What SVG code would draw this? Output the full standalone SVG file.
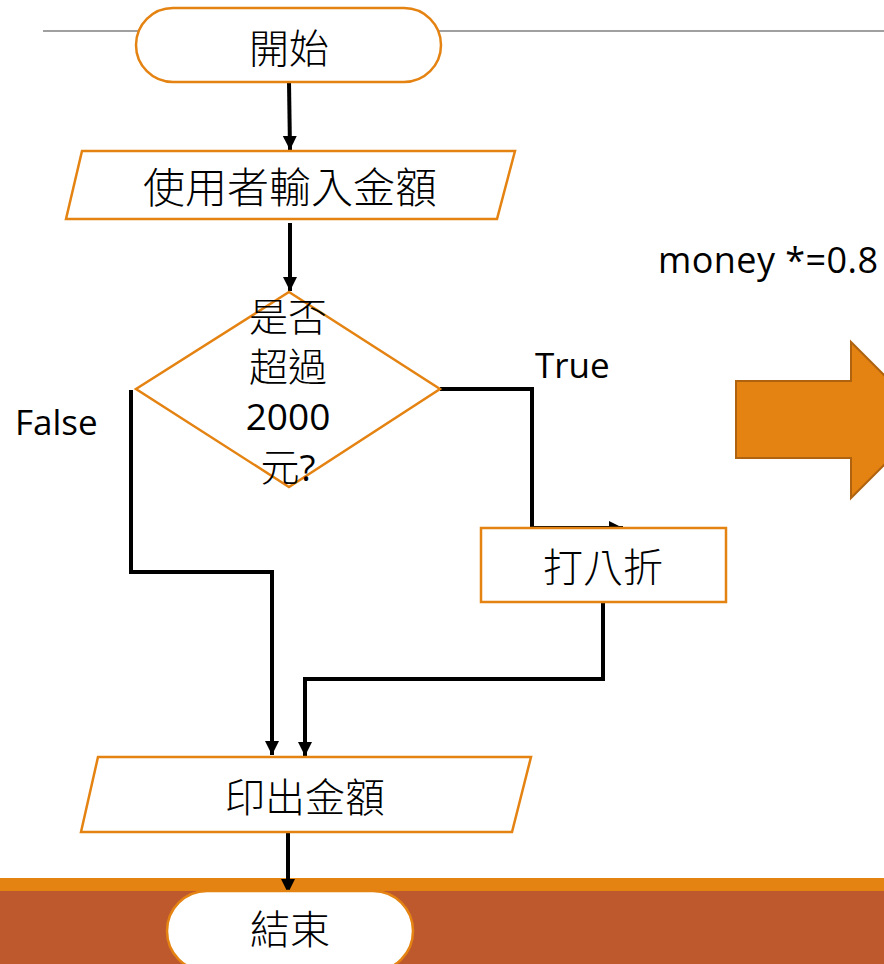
<svg xmlns="http://www.w3.org/2000/svg" width="884" height="964" viewBox="0 0 884 964">
  <style>
    .shape { fill: #FFFFFF; stroke: #E48312; stroke-width: 2.5; }
    .cjk { font-family: "Noto Sans CJK TC", "Noto Sans CJK SC", sans-serif; font-weight: 300; font-size: 40px; fill: #000000; text-anchor: middle; }
    .lat { font-family: "Open Sans", "Noto Sans", sans-serif; font-size: 35px; fill: #000000; }
    .conn { fill: none; stroke: #000000; stroke-width: 4; stroke-linejoin: miter; }
  </style>
  <defs>
    <marker id="ah" markerUnits="userSpaceOnUse" markerWidth="16" markerHeight="16" refX="14" refY="7" orient="auto">
      <path d="M0,0 L14,7 L0,14 z" fill="#000000"/>
    </marker>
  </defs>

  <rect x="0" y="0" width="884" height="964" fill="#FFFFFF"/>

  <!-- top rule -->
  <line x1="43" y1="31" x2="884" y2="31" stroke="#808080" stroke-width="1.5"/>

  <!-- bottom bands -->
  <rect x="0" y="878" width="884" height="13" fill="#E48312"/>
  <rect x="0" y="891" width="884" height="73" fill="#BE592E"/>

  <!-- big arrow -->
  <g id="big-arrow">
    <polygon points="736,381 851,381 851,342 929,420 851,498 851,458 736,458" fill="#E48312" stroke="#B0630F" stroke-width="2"/>
  </g>

  <g id="connectors">
    <path class="conn" d="M289,82 L290,150" marker-end="url(#ah)"/>
    <path class="conn" d="M290,223 L290,291" marker-end="url(#ah)"/>
    <path class="conn" d="M440,389 L532,389 L532,528 L623,528" marker-end="url(#ah)"/>
    <path class="conn" d="M131,390 L131,572 L272,572 L272,755" marker-end="url(#ah)"/>
    <path class="conn" d="M603,602 L603,679 L305,679 L305,756" marker-end="url(#ah)"/>
    <path class="conn" d="M288,826 L288,893" marker-end="url(#ah)"/>
  </g>

  <g id="start">
    <rect class="shape" x="136" y="8" width="305" height="74" rx="37" ry="37"/>
    <text class="cjk" x="289" y="63">開始</text>
  </g>

  <g id="input">
    <polygon class="shape" points="82,151 515,151 497,219 66,219"/>
    <text class="cjk" x="290" y="203" style="font-size:42px">使用者輸入金額</text>
  </g>

  <g id="decision">
    <polygon class="shape" points="289,292 440,389 289,487 136,389" style="fill:none"/>
    <text class="cjk" x="288" y="331" style="font-size:39px">是否</text>
    <text class="cjk" x="288" y="381" style="font-size:39px">超過</text>
    <text class="lat" x="288" y="430" style="text-anchor:middle;font-size:37px">2000</text>
    <text class="cjk" x="288" y="481" style="font-size:39px">元<tspan style="font-family:'Open Sans',sans-serif;font-weight:400;font-size:37px">?</tspan></text>
  </g>

  <g id="discount">
    <rect class="shape" x="481" y="528" width="245" height="74"/>
    <text class="cjk" x="603" y="582">打八折</text>
  </g>

  <g id="output">
    <polygon class="shape" points="98,757 531,757 512,832 81,832"/>
    <text class="cjk" x="305" y="812">印出金額</text>
  </g>

  <g id="end">
    <rect class="shape" x="167" y="891" width="246" height="80" rx="40" ry="40"/>
    <text class="cjk" x="290" y="944">結束</text>
  </g>

  <g id="labels">
    <text class="lat" x="535" y="378">True</text>
    <text class="lat" x="15" y="435">False</text>
    <text class="lat" x="658" y="273" style="font-size:36px" textLength="220">money *=0.8</text>
  </g>
</svg>
